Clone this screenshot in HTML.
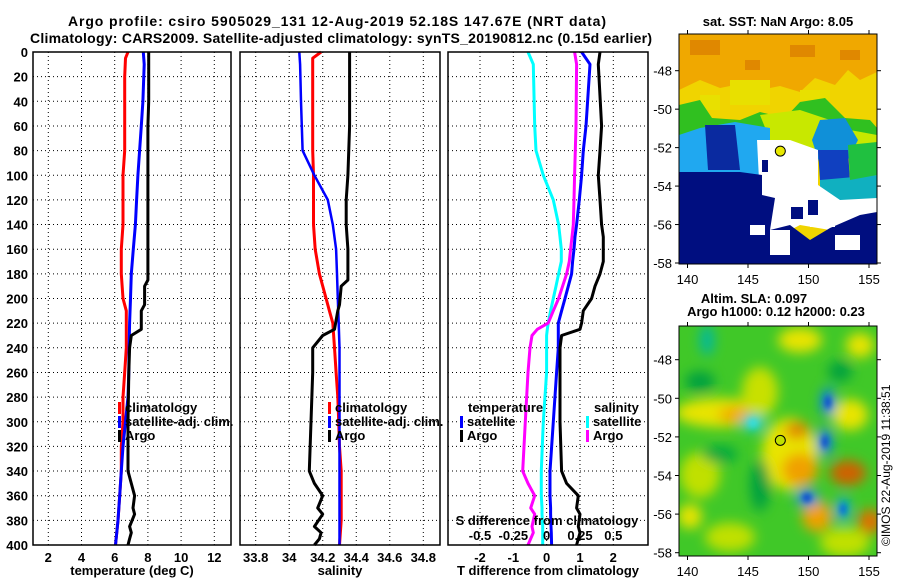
<!DOCTYPE html>
<html><head><meta charset="utf-8"><style>
html,body{margin:0;padding:0;background:#fff;}
svg{display:block;font-family:"Liberation Sans",sans-serif;font-weight:bold;}
</style></head><body>
<svg id="fig" width="900" height="580" viewBox="0 0 900 580" xmlns="http://www.w3.org/2000/svg">
<defs>
<filter id="blur" x="-50%" y="-50%" width="200%" height="200%"><feGaussianBlur stdDeviation="6"/></filter>
<filter id="blur2" x="-50%" y="-50%" width="200%" height="200%"><feGaussianBlur stdDeviation="3"/></filter>
<clipPath id="clipm1"><rect x="679" y="34" width="198" height="230"/></clipPath>
<clipPath id="clipm2"><rect x="679" y="326" width="198" height="230"/></clipPath>
</defs>
<text x="337" y="26" font-size="14" text-anchor="middle" textLength="538">Argo profile: csiro 5905029_131 12-Aug-2019 52.18S 147.67E (NRT data)</text>
<text x="341" y="43" font-size="14" text-anchor="middle" textLength="622">Climatology: CARS2009. Satellite-adjusted climatology: synTS_20190812.nc (0.15d earlier)</text>
<text x="778" y="26" font-size="13" text-anchor="middle">sat. SST: NaN Argo: 8.05</text>
<text x="754" y="303" font-size="13" text-anchor="middle">Altim. SLA: 0.097</text>
<text x="776" y="316" font-size="13" text-anchor="middle">Argo h1000: 0.12 h2000: 0.23</text>
<g id="panels"></g>
<g id="maps"></g>
<text transform="translate(890,546) rotate(-90)" font-size="12" font-weight="normal">©IMOS 22-Aug-2019 11:38:51</text>
</svg>
<script>
// ---- data (depth in m) ----
const depthTicks=[0,20,40,60,80,100,120,140,160,180,200,220,240,260,280,300,320,340,360,380,400];
const tempTicks=[2,4,6,8,10,12];
const salTicks=[33.8,34,34.2,34.4,34.6,34.8];
const salTickLabels=["33.8","34","34.2","34.4","34.6","34.8"];
const tdiffTicks=[-2,-1,0,1,2];
const sdiffTicks=[-0.5,-0.25,0,0.25,0.5];
const sdiffTickLabels=["-0.5","-0.25","0","0.25","0.5"];

const climDepth=[0,5,20,40,60,80,100,120,140,160,180,200,210,220,240,260,280,300,320,340,360,380,400];
const climTemp=[6.8,6.65,6.6,6.6,6.6,6.6,6.5,6.5,6.5,6.4,6.4,6.5,6.7,6.7,6.7,6.6,6.5,6.5,6.4,6.4,6.3,6.2,6.05];
const climSal=[34.19,34.14,34.14,34.14,34.14,34.14,34.145,34.145,34.145,34.155,34.18,34.22,34.24,34.26,34.27,34.28,34.29,34.295,34.30,34.31,34.31,34.31,34.30];

const satDepth=[0,10,40,60,80,100,120,140,160,180,200,220,240,260,280,300,320,340,360,380,400];
const satTemp=[7.72,7.78,7.7,7.6,7.5,7.4,7.32,7.25,7.12,7.0,6.95,6.9,6.87,6.85,6.8,6.65,6.5,6.4,6.3,6.2,6.05];
const satSal=[34.06,34.065,34.07,34.075,34.08,34.15,34.23,34.26,34.28,34.285,34.29,34.295,34.30,34.30,34.30,34.30,34.30,34.30,34.30,34.30,34.30];

const argoDepth=[0,40,60,100,120,140,160,185,190,205,210,225,230,240,260,300,340,350,360,370,375,385,390,395,400];
const argoTemp=[8.05,8.05,8.0,8.0,8.0,8.0,8.0,8.0,7.8,7.8,7.6,7.6,7.0,6.9,6.85,6.8,6.8,7.0,7.2,7.1,7.2,6.9,7.0,6.9,6.8];
const argoSal=[34.36,34.36,34.36,34.35,34.34,34.34,34.35,34.35,34.31,34.30,34.29,34.27,34.2,34.14,34.14,34.13,34.12,34.15,34.2,34.17,34.2,34.15,34.19,34.18,34.15];

const dDepth=[0,10,60,80,100,120,140,150,160,170,180,190,200,210,220,225,230,240,260,300,340,350,360,370,375,385,390,400];
const dTempSat=[1.05,1.3,1.18,1.1,1.05,0.98,0.9,0.85,0.82,0.78,0.75,0.65,0.55,0.45,0.35,0.35,0.35,0.35,0.3,0.2,0.1,0.1,0.1,0.12,0.12,0.13,0.14,0.15];
const dTempArgo=[1.6,1.55,1.65,1.6,1.55,1.6,1.65,1.7,1.7,1.7,1.6,1.45,1.35,1.1,1.05,1.0,0.45,0.4,0.4,0.4,0.45,0.6,0.95,0.9,1.0,0.95,1.0,0.9];
const dSalSat=[-0.14,-0.1,-0.09,-0.08,-0.025,0.05,0.09,0.1,0.11,0.11,0.09,0.07,0.05,0.03,0.012,0.005,0,0,0,-0.025,-0.04,-0.04,-0.04,-0.035,-0.035,-0.03,-0.03,-0.03];
const dSalArgo=[0.21,0.225,0.22,0.215,0.21,0.205,0.2,0.19,0.18,0.17,0.15,0.12,0.09,0.05,0.012,-0.07,-0.11,-0.125,-0.14,-0.16,-0.18,-0.14,-0.09,-0.12,-0.09,-0.11,-0.1,-0.14];

const latTicks=[-48,-50,-52,-54,-56,-58];
const lonTicks=[140,145,150,155];
const argoLon=147.67, argoLat=-52.18;

// ---- helpers ----
const NS="http://www.w3.org/2000/svg";
function mk(tag,attrs,parent){const e=document.createElementNS(NS,tag);for(const k in attrs)e.setAttribute(k,attrs[k]);parent.appendChild(e);return e;}
const PT=52,PB=545;
function yD(d){return PT+(PB-PT)*d/400;}
function lin(v0,p0,v1,p1){return v=>p0+(v-v0)*(p1-p0)/(v1-v0);}
const xT=lin(2,48.3,12,214.3);
const xS=lin(33.8,255.7,34.8,423.3);
const xTD=lin(-2,480,2,613.3);
const xSD=lin(-0.5,480,0.5,613.3);
const panelsG=document.getElementById('panels');

function panel(name,x0,x1,xf,ticks,labels,xlabel){
  const g=mk('g',{},panelsG);
  
  
  for(const d of depthTicks){ if(d===0||d===400)continue;
    const l=mk('line',{x1:x0,x2:x1,y1:yD(d),y2:yD(d),stroke:'#000','stroke-width':1,'stroke-dasharray':'1,3'},g);
    
    
  }
  ticks.forEach((t,i)=>{const x=xf(t);
    const l=mk('line',{x1:x,x2:x,y1:PT,y2:PB,stroke:'#000','stroke-width':1,'stroke-dasharray':'1,3'},g);
    
    
    const tx=mk('text',{x:x,y:PB+17,'font-size':13,'text-anchor':'middle'},g);tx.textContent=labels[i];
    
    
  });
  const xl=mk('text',{x:(x0+x1)/2,y:PB+30,'font-size':13,'text-anchor':'middle'},g);xl.textContent=xlabel;
  
  
  return g;
}
function line(g,xs,ds,xf,color,w,name){
  let p='';xs.forEach((v,i)=>{p+=(i?'L':'M')+xf(v).toFixed(1)+','+yD(ds[i]).toFixed(1);});
  const e=mk('path',{d:p,fill:'none',stroke:color,'stroke-width':w,'stroke-linejoin':'round'},g);
  
  
}
function frame(g,x0,x1){const r=mk('rect',{x:x0,y:PT,width:x1-x0,height:PB-PT,fill:'none',stroke:'#000','stroke-width':1.5},g);
  
  }
function legend(g,x,y,items){
  items.forEach((it,i)=>{const yy=y+i*14;
    const b=mk('rect',{x:x,y:yy-10,width:3,height:12,fill:it[1]},g);
    
    
    const t=mk('text',{x:x+7,y:yy,'font-size':13},g);t.textContent=it[0];
    
    });
}

// Panel 1
const g1=panel('temperature-panel',33,231,xT,tempTicks,tempTicks.map(String),'temperature (deg C)');
depthTicks.forEach(d=>{const t=mk('text',{x:28,y:yD(d)+5,'font-size':13,'text-anchor':'end'},g1);t.textContent=d;
  
  });
line(g1,climTemp,climDepth,xT,'#f00',3,'climatology-temperature-line');
line(g1,satTemp,satDepth,xT,'#00f',3,'satellite-temperature-line');
line(g1,argoTemp,argoDepth,xT,'#000',3,'argo-temperature-line');
legend(g1,118,412,[['climatology','#f00'],['satellite-adj. clim.','#00f'],['Argo','#000']]);
frame(g1,33,231);

// Panel 2
const g2=panel('salinity-panel',240,440,xS,salTicks,salTickLabels,'salinity');
line(g2,climSal,climDepth,xS,'#f00',3,'climatology-salinity-line');
line(g2,satSal,satDepth,xS,'#00f',2.5,'satellite-salinity-line');
line(g2,argoSal,argoDepth,xS,'#000',3,'argo-salinity-line');
legend(g2,328,412,[['climatology','#f00'],['satellite-adj. clim.','#00f'],['Argo','#000']]);
frame(g2,240,440);

// Panel 3
const g3=panel('difference-panel',448,648,xTD,tdiffTicks,tdiffTicks.map(String),'T difference from climatology');
line(g3,dSalSat,dDepth,xSD,'#0ff',3,'salinity-satellite-difference-line');
line(g3,dSalArgo,dDepth,xSD,'#f0f',3,'salinity-argo-difference-line');
line(g3,dTempSat,dDepth,xTD,'#00f',3,'temperature-satellite-difference-line');
line(g3,dTempArgo,dDepth,xTD,'#000',3,'temperature-argo-difference-line');
(function(){const t=mk('text',{x:468,y:412,'font-size':13},g3);t.textContent='temperature';
  
  const s=mk('text',{x:594,y:412,'font-size':13},g3);s.textContent='salinity';
  })();
legend(g3,460,426,[['satellite','#00f'],['Argo','#000']]);
legend(g3,586,426,[['satellite','#0ff'],['Argo','#f0f']]);
(function(){const t=mk('text',{x:547,y:525,'font-size':13,'text-anchor':'middle'},g3);t.textContent='S difference from climatology';
  
  sdiffTicks.forEach((v,i)=>{const l=mk('text',{x:xSD(v),y:540,'font-size':13,'text-anchor':'middle'},g3);l.textContent=sdiffTickLabels[i];
    });})();
frame(g3,448,648);

// ---- maps ----
const mapsG=document.getElementById('maps');
const xLon=lin(140,687.5,155,869);
function mapAxes(g,top,bot,yLat){
  latTicks.forEach(l=>{const y=yLat(l);
    const t=mk('text',{x:672,y:y+5,'font-size':13,'font-weight':'normal','text-anchor':'end'},g);t.textContent=l;
    
    mk('line',{x1:679,x2:675,y1:y,y2:y,stroke:'#000'},g);
    mk('line',{x1:877,x2:881,y1:y,y2:y,stroke:'#000'},g);});
  lonTicks.forEach(l=>{const x=xLon(l);
    const t=mk('text',{x:x,y:bot+20,'font-size':13,'font-weight':'normal','text-anchor':'middle'},g);t.textContent=l;
    
    mk('line',{x1:x,x2:x,y1:bot,y2:bot+4,stroke:'#000'},g);
    mk('line',{x1:x,x2:x,y1:top,y2:top-4,stroke:'#000'},g);});
}
// SST map
const yLat1=lin(-48,70.7,-58,263);
const m1=mk('g',{},mapsG);


const c1=mk('g',{'clip-path':'url(#clipm1)'},m1);
mk('rect',{x:679,y:34,width:198,height:230,fill:'#f0d400'},c1);
mk('path',{d:'M679,34H877V72L860,80 848,70 835,85 815,78 800,92 780,86 760,90 740,84 720,88 700,80 679,90Z',fill:'#f0a800'},c1);
mk('path',{d:'M690,40h30v15h-30zM790,45h25v12h-25zM840,50h20v10h-20zM745,60h15v10h-15z',fill:'#e08800'},c1);
mk('path',{d:'M730,80h40v25h-40zM700,95h20v15h-20zM800,90h30v10h-30z',fill:'#e8e000'},c1);
mk('path',{d:'M679,105L700,100 712,118 740,120 760,112 785,118 800,102 825,98 845,118 870,120 877,128V160L850,150 830,150 800,145 770,140 740,138 705,140 679,140Z',fill:'#30c020'},c1);
mk('path',{d:'M760,115L800,110 830,120 850,130 877,135V150L845,152 800,148 770,140Z',fill:'#c8e800'},c1);
mk('path',{d:'M679,135L700,128 735,122 770,128 770,176 740,175 679,172Z',fill:'#20a8f0'},c1);
mk('path',{d:'M705,125L735,125 740,170 708,170Z',fill:'#0a2aa0'},c1);
mk('path',{d:'M820,120L845,118 858,140 848,160 820,165 812,140Z',fill:'#1090d8'},c1);
mk('path',{d:'M818,150L848,150 850,182 820,180Z',fill:'#1040c0'},c1);
mk('path',{d:'M820,180L877,175V205L840,210 820,195Z',fill:'#10b0c0'},c1);
mk('path',{d:'M848,145L877,142V175L850,180Z',fill:'#20c040'},c1);
mk('path',{d:'M757,140L790,140 818,150 818,185 840,200 877,198V215L850,220 830,230 800,225 775,238 760,230 760,200Z',fill:'#ffffff'},c1);
mk('path',{d:'M679,172L740,172 762,175 762,195 775,198 770,230 790,225 810,240 830,228 860,215 877,212V264H679Z',fill:'#000e80'},c1);
mk('path',{d:'M775,200h35v25h-35zM810,215h25v12h-25zM770,230h20v25h-20zM835,235h25v15h-25zM815,200h12v10h-12zM750,225h15v10h-15z',fill:'#ffffff'},c1);
mk('path',{d:'M791,207h12v12h-12zM808,200h10v15h-10zM762,160h6v12h-6z',fill:'#000e80'},c1);
const p1=mk('circle',{cx:xLon(argoLon),cy:yLat1(argoLat),r:5,fill:'#e8e800',stroke:'#000','stroke-width':1},m1);


mk('rect',{x:679,y:34,width:198,height:230,fill:'none',stroke:'#000','stroke-width':1},m1);
mapAxes(m1,34,264,yLat1);

// SLA map
const yLat2=lin(-48,359.7,-58,552.7);
const m2=mk('g',{},mapsG);


const c2=mk('g',{'clip-path':'url(#clipm2)'},m2);
mk('rect',{x:679,y:326,width:198,height:230,fill:'#40c828'},c2);
const inner=mk('g',{transform:'translate(0,-2.1) scale(1,1.037)'},c2);
const fb=mk('g',{filter:'url(#blur)'},inner);
const blobs=[
 [720,400,45,14,'#e8e400'],[740,402,22,8,'#f0a800'],[800,330,22,12,'#e8e400'],[860,335,14,12,'#e8e400'],
 [790,440,28,35,'#e8e400'],[800,455,18,16,'#f0a000'],[797,417,12,8,'#e08000'],[760,380,18,24,'#c8e000'],
 [848,458,18,12,'#d06000'],[850,402,18,15,'#e8e400'],[817,500,15,15,'#f0a000'],[870,505,12,12,'#e07000'],
 [700,460,20,22,'#c0e000'],[730,520,25,14,'#c0e000'],[845,525,25,14,'#c0e000'],[690,500,12,12,'#e8e400'],
 [707,330,7,15,'#00b8a0'],[753,410,12,8,'#00d0d0'],[720,440,18,8,'#00a840'],[828,390,7,14,'#0080f0'],
 [825,428,7,14,'#0080f0'],[807,482,12,8,'#0090e8'],[843,493,7,12,'#00a0e8'],[700,370,15,10,'#00a040'],
 [760,470,10,25,'#00a040'],[840,360,12,10,'#00a040']];
blobs.forEach(b=>mk('ellipse',{cx:b[0],cy:b[1],rx:b[2],ry:b[3],fill:b[4]},fb));
const fb2=mk('g',{filter:'url(#blur2)'},inner);
[[828,390,3,6,'#0040d0'],[825,428,3,6,'#0040d0'],[807,482,5,4,'#0040d0'],[843,493,3,5,'#0060e0'],[753,410,5,4,'#30e0e0']].forEach(b=>mk('ellipse',{cx:b[0],cy:b[1],rx:b[2],ry:b[3],fill:b[4]},fb2));
const p2=mk('circle',{cx:xLon(argoLon),cy:yLat2(argoLat),r:5,fill:'#c0e000',stroke:'#000','stroke-width':1},m2);


mk('rect',{x:679,y:326,width:198,height:230,fill:'none',stroke:'#000','stroke-width':1},m2);
mapAxes(m2,326,556,yLat2);
</script>
</body></html>
